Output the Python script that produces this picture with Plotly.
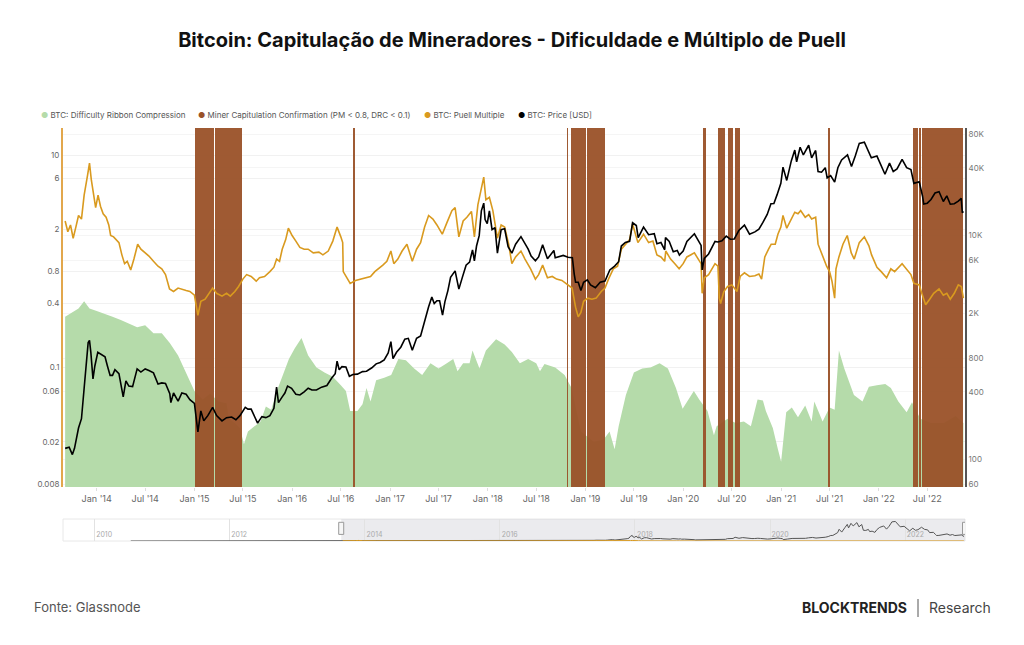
import math
import pandas as pd
import plotly.graph_objects as go

# ---------------- DATA ----------------
price_dates = ["2013-09-05","2013-09-20","2013-10-02","2013-10-10","2013-10-25","2013-11-05","2013-11-15","2013-11-30","2013-12-05","2013-12-10","2013-12-18","2013-12-25",
"2014-01-05","2014-01-20","2014-02-01","2014-02-10","2014-02-20","2014-03-01","2014-03-10","2014-03-25","2014-04-01","2014-04-10","2014-04-20","2014-05-01","2014-05-15","2014-06-01","2014-06-15","2014-07-01","2014-07-15","2014-08-01","2014-08-18","2014-09-01","2014-09-15","2014-10-01","2014-10-05","2014-10-15","2014-11-01","2014-11-15","2014-12-01","2014-12-15",
"2015-01-01","2015-01-14","2015-01-25","2015-02-05","2015-02-20","2015-03-10","2015-03-25","2015-04-14","2015-05-01","2015-05-20","2015-06-05","2015-06-20","2015-07-10","2015-07-20","2015-08-01","2015-08-19","2015-08-25","2015-09-10","2015-09-25","2015-10-10","2015-10-25","2015-11-04","2015-11-11","2015-11-25","2015-12-05","2015-12-15","2015-12-30",
"2016-01-15","2016-01-30","2016-02-15","2016-03-01","2016-03-15","2016-04-01","2016-04-20","2016-05-10","2016-05-28","2016-06-10","2016-06-17","2016-06-25","2016-07-05","2016-07-20","2016-08-02","2016-08-15","2016-09-01","2016-09-20","2016-10-05","2016-10-25","2016-11-10","2016-11-25","2016-12-10","2016-12-25",
"2017-01-04","2017-01-12","2017-01-25","2017-02-10","2017-02-25","2017-03-10","2017-03-25","2017-04-10","2017-04-25","2017-05-10","2017-05-25","2017-06-06","2017-06-15","2017-06-25","2017-07-05","2017-07-16","2017-07-25","2017-08-05","2017-08-15","2017-09-01","2017-09-15","2017-09-28","2017-10-12","2017-10-25","2017-11-05","2017-11-12","2017-11-20","2017-11-30","2017-12-08","2017-12-17","2017-12-22","2017-12-30",
"2018-01-07","2018-01-17","2018-01-28","2018-02-06","2018-02-20","2018-03-05","2018-03-18","2018-04-01","2018-04-15","2018-05-05","2018-05-20","2018-06-01","2018-06-12","2018-06-28","2018-07-10","2018-07-25","2018-08-12","2018-08-25","2018-09-05","2018-09-10","2018-09-25","2018-10-10","2018-10-28","2018-11-13","2018-11-20","2018-11-25","2018-12-05","2018-12-15","2018-12-25",
"2019-01-08","2019-01-20","2019-02-07","2019-02-25","2019-03-15","2019-04-02","2019-04-20","2019-05-05","2019-05-15","2019-05-30","2019-06-15","2019-06-26","2019-07-10","2019-07-17","2019-08-06","2019-08-25","2019-09-15","2019-09-25","2019-10-10","2019-10-24","2019-10-27","2019-11-10","2019-11-25","2019-12-10","2019-12-18",
"2020-01-01","2020-01-15","2020-02-12","2020-02-28","2020-03-08","2020-03-12","2020-03-20","2020-04-05","2020-04-29","2020-05-10","2020-05-25","2020-06-10","2020-06-25","2020-07-10","2020-07-27","2020-08-17","2020-09-05","2020-09-25","2020-10-10","2020-10-25","2020-11-10","2020-11-24","2020-12-05","2020-12-17","2020-12-31",
"2021-01-08","2021-01-22","2021-02-08","2021-02-21","2021-02-28","2021-03-13","2021-03-25","2021-04-14","2021-04-25","2021-05-10","2021-05-19","2021-06-01","2021-06-15","2021-06-22","2021-07-05","2021-07-20","2021-08-01","2021-08-15","2021-09-06","2021-09-21","2021-10-05","2021-10-20","2021-11-08","2021-11-20","2021-12-04","2021-12-25",
"2022-01-10","2022-01-24","2022-02-10","2022-02-24","2022-03-10","2022-03-29","2022-04-15","2022-05-01","2022-05-12","2022-06-01","2022-06-13","2022-06-18","2022-07-01","2022-07-15","2022-07-30","2022-08-14","2022-08-30","2022-09-12","2022-09-25","2022-10-10","2022-10-25","2022-11-05","2022-11-09","2022-11-13"]
price_usd = [125,128,110,125,190,230,430,1100,1150,900,520,680,
900,850,820,680,560,560,630,580,470,360,500,450,445,640,600,640,620,590,470,480,475,385,320,390,330,390,380,340,
315,175,270,220,245,290,245,220,235,238,225,245,290,280,280,230,210,240,235,245,285,440,320,360,390,450,430,
380,375,400,430,415,415,440,455,530,580,750,630,670,665,550,570,575,605,610,655,710,730,770,890,
1120,790,900,1000,1180,1200,940,1200,1260,1750,2300,2800,2450,2600,2600,1930,2550,3200,4200,4800,3300,4200,5400,5750,7400,5900,8000,9900,16500,19300,13800,12700,
16500,11200,11700,6900,11200,11400,7900,6900,8300,9700,8500,7500,6500,5900,6400,8200,6150,6700,7300,6300,6500,6600,6350,6300,4500,3800,3800,3200,3800,
4000,3600,3400,3800,3900,4900,5300,5800,8000,8600,8800,12900,12200,9500,11800,10100,10300,8400,8600,7400,9500,8800,7100,7300,6650,
7200,8800,10300,8700,8100,4900,6200,6800,8800,8700,8900,9800,9200,9250,11000,12300,10200,10700,11300,13000,15300,19100,19200,23000,29000,
40500,30800,46000,57500,45200,61000,52000,63500,49000,57000,37000,36500,40000,32500,34000,29800,40000,47000,52000,41000,51000,66000,67500,58000,49000,50800,
41800,35000,44000,37000,39000,47500,40000,38500,29000,30000,22500,19000,19300,20800,23800,24400,20000,22400,18900,19100,20100,21300,15900,16300]

puell_dates = ["2013-09-05","2013-09-15","2013-09-25","2013-10-05","2013-10-15","2013-10-25","2013-11-05","2013-11-15","2013-11-28","2013-12-05","2013-12-12","2013-12-20","2013-12-28",
"2014-01-06","2014-01-15","2014-01-25","2014-02-05","2014-02-15","2014-02-22","2014-03-05","2014-03-15","2014-03-25","2014-04-05","2014-04-15","2014-04-25","2014-05-08","2014-05-20","2014-06-03","2014-06-15","2014-07-01","2014-07-15","2014-08-01","2014-08-18","2014-09-01","2014-09-15","2014-09-30","2014-10-15","2014-11-01","2014-11-15","2014-12-01","2014-12-15",
"2015-01-01","2015-01-14","2015-01-25","2015-02-10","2015-02-25","2015-03-10","2015-03-25","2015-04-14","2015-05-01","2015-05-15","2015-06-01","2015-06-15","2015-07-01","2015-07-15","2015-08-01","2015-08-20","2015-09-01","2015-09-20","2015-10-10","2015-10-25","2015-11-04","2015-11-15","2015-11-25","2015-12-08","2015-12-18",
"2016-01-01","2016-01-15","2016-01-30","2016-02-15","2016-03-01","2016-03-20","2016-04-10","2016-04-25","2016-05-15","2016-06-01","2016-06-17","2016-07-01","2016-07-08","2016-07-10","2016-07-25","2016-08-05","2016-08-25","2016-09-15","2016-10-01","2016-10-20","2016-11-05","2016-11-20","2016-12-05","2016-12-20",
"2017-01-04","2017-01-15","2017-01-30","2017-02-15","2017-03-05","2017-03-25","2017-04-10","2017-04-25","2017-05-10","2017-05-25","2017-06-10","2017-06-25","2017-07-15","2017-08-01","2017-08-20","2017-09-01","2017-09-15","2017-10-01","2017-10-15","2017-11-01","2017-11-12","2017-11-25","2017-12-08","2017-12-17","2017-12-25",
"2018-01-07","2018-01-20","2018-02-06","2018-02-20","2018-03-05","2018-03-20","2018-04-01","2018-04-15","2018-05-05","2018-05-20","2018-06-10","2018-06-28","2018-07-10","2018-07-25","2018-08-12","2018-08-30","2018-09-15","2018-10-05","2018-10-25","2018-11-12","2018-11-25","2018-12-05","2018-12-15","2018-12-25",
"2019-01-10","2019-01-25","2019-02-10","2019-03-01","2019-03-15","2019-03-28","2019-04-15","2019-05-01","2019-05-15","2019-06-01","2019-06-15","2019-06-26","2019-07-05","2019-07-16","2019-08-06","2019-08-25","2019-09-10","2019-09-25","2019-10-10","2019-10-24","2019-10-28","2019-11-15","2019-12-01","2019-12-17",
"2020-01-01","2020-01-15","2020-02-12","2020-02-28","2020-03-08","2020-03-12","2020-03-20","2020-04-05","2020-04-29","2020-05-10","2020-05-15","2020-05-20","2020-06-01","2020-06-15","2020-07-01","2020-07-20","2020-08-01","2020-08-17","2020-09-05","2020-09-25","2020-10-10","2020-10-20","2020-11-01","2020-11-15","2020-11-25","2020-12-10","2020-12-20","2020-12-31",
"2021-01-08","2021-01-22","2021-02-08","2021-02-21","2021-03-05","2021-03-15","2021-04-01","2021-04-14","2021-04-25","2021-05-10","2021-05-19","2021-06-05","2021-06-20","2021-07-01","2021-07-10","2021-07-20","2021-07-25","2021-08-05","2021-08-20","2021-09-05","2021-09-20","2021-10-01","2021-10-20","2021-11-08","2021-11-25","2021-12-05","2021-12-25",
"2022-01-10","2022-01-30","2022-02-15","2022-03-01","2022-03-29","2022-04-15","2022-05-01","2022-05-12","2022-06-01","2022-06-13","2022-06-25","2022-07-10","2022-07-25","2022-08-14","2022-08-30","2022-09-12","2022-09-25","2022-10-10","2022-10-25","2022-11-05","2022-11-13"]
puell_multiple = [2.4,1.9,2.2,1.65,2.1,2.7,2.5,4.2,6.5,8.4,5.8,4.5,3.2,
4.2,3.3,2.8,2.6,2.2,1.75,1.7,1.6,1.5,1.15,0.95,1.0,0.83,1.05,1.45,1.3,1.2,1.12,1.0,0.9,0.85,0.75,0.55,0.52,0.56,0.55,0.53,0.52,
0.48,0.31,0.42,0.44,0.5,0.56,0.5,0.47,0.5,0.47,0.52,0.58,0.68,0.75,0.72,0.65,0.7,0.72,0.8,0.88,1.05,1.0,1.3,1.6,2.05,
1.75,1.55,1.35,1.3,1.3,1.2,1.22,1.15,1.25,1.55,2.1,1.7,1.5,0.8,0.7,0.62,0.66,0.68,0.7,0.72,0.8,0.85,0.92,1.0,
1.25,0.95,1.05,1.25,1.45,1.0,1.3,1.5,2.1,2.7,2.5,2.2,1.8,2.3,3.0,3.2,1.7,2.4,2.6,2.95,1.7,3.4,4.8,6.2,3.8,
4.0,3.0,1.65,2.2,2.1,1.45,0.95,1.1,1.25,1.05,0.85,0.68,0.75,0.92,0.7,0.72,0.68,0.66,0.6,0.56,0.37,0.3,0.33,0.42,
0.45,0.44,0.45,0.52,0.56,0.68,0.85,0.9,1.3,1.45,1.6,2.25,1.9,1.5,1.8,1.5,1.55,1.15,1.1,1.0,1.25,1.05,0.95,0.85,
0.95,1.1,1.2,1.05,0.95,0.5,0.7,0.75,0.95,0.9,0.45,0.4,0.52,0.58,0.6,0.52,0.72,0.78,0.72,0.73,0.76,0.68,1.1,1.3,1.45,1.45,1.8,2.1,
2.7,2.05,2.5,2.9,2.8,3.0,2.6,2.75,2.5,2.6,1.45,1.1,0.9,0.8,0.65,0.45,0.85,1.1,1.45,1.75,1.2,1.05,1.5,1.7,1.4,1.15,0.88,
0.8,0.7,0.85,0.8,0.95,0.85,0.75,0.62,0.6,0.48,0.39,0.44,0.5,0.55,0.48,0.5,0.44,0.5,0.6,0.58,0.45]

drc_dates = ["2013-09-05","2013-10-01","2013-10-25","2013-11-15","2013-12-05","2014-01-01","2014-02-01","2014-03-01","2014-04-01","2014-05-01","2014-06-01","2014-07-01","2014-08-01","2014-09-01","2014-10-01","2014-11-01","2014-12-01",
"2015-01-01","2015-02-01","2015-03-01","2015-04-01","2015-05-01","2015-05-10","2015-06-01","2015-06-20","2015-07-05","2015-07-20","2015-08-15","2015-09-05","2015-09-25","2015-10-15","2015-11-05","2015-12-01","2015-12-20",
"2016-01-10","2016-02-05","2016-03-01","2016-04-01","2016-05-01","2016-06-01","2016-07-01","2016-07-20","2016-08-05","2016-09-01","2016-09-20","2016-10-05","2016-10-20","2016-11-10","2016-12-10",
"2017-01-05","2017-02-01","2017-03-01","2017-04-01","2017-05-01","2017-06-01","2017-07-01","2017-08-01","2017-08-25","2017-09-10","2017-10-01","2017-10-25","2017-11-05","2017-12-01","2017-12-25",
"2018-02-01","2018-03-05","2018-04-01","2018-05-01","2018-06-01","2018-07-01","2018-07-15","2018-08-01","2018-09-10","2018-10-15","2018-11-10","2018-12-15",
"2019-02-01","2019-03-10","2019-04-01","2019-04-20","2019-05-05","2019-06-01","2019-07-01","2019-08-01","2019-09-01","2019-10-05","2019-11-05","2019-12-05","2019-12-30",
"2020-01-20","2020-02-10","2020-03-01","2020-04-01","2020-04-25","2020-05-05","2020-06-15","2020-07-15","2020-08-15","2020-09-10","2020-10-05","2020-10-25","2020-11-05","2020-12-01","2020-12-20",
"2021-01-01","2021-01-20","2021-02-10","2021-03-05","2021-04-01","2021-04-25","2021-05-05","2021-06-05","2021-07-01","2021-07-20","2021-08-05","2021-08-25","2021-09-30","2021-11-01","2021-11-25","2021-12-25",
"2022-01-25","2022-02-15","2022-03-15","2022-04-15","2022-05-05","2022-06-05","2022-07-15","2022-09-01","2022-10-15","2022-11-13"]
drc_value = [0.30,0.33,0.36,0.42,0.36,0.34,0.32,0.30,0.28,0.26,0.24,0.25,0.21,0.21,0.17,0.13,0.09,
0.06,0.05,0.057,0.048,0.046,0.033,0.03,0.027,0.019,0.025,0.028,0.031,0.043,0.04,0.06,0.09,0.12,
0.15,0.19,0.13,0.1,0.09,0.082,0.068,0.06,0.039,0.039,0.045,0.064,0.048,0.076,0.08,
0.085,0.12,0.117,0.098,0.085,0.11,0.098,0.11,0.12,0.092,0.11,0.11,0.145,0.098,0.145,
0.185,0.165,0.14,0.11,0.12,0.11,0.092,0.108,0.1,0.085,0.064,0.025,
0.02,0.021,0.025,0.017,0.028,0.055,0.09,0.098,0.1,0.11,0.098,0.064,0.041,
0.05,0.06,0.05,0.039,0.023,0.028,0.033,0.03,0.031,0.028,0.05,0.049,0.039,0.027,0.017,
0.013,0.038,0.042,0.034,0.044,0.031,0.048,0.031,0.042,0.04,0.145,0.098,0.055,0.048,0.066,0.068,
0.07,0.064,0.048,0.038,0.047,0.033,0.03,0.03,0.035,0.03]

cap_start = ["2015-01-03","2015-03-18","2015-06-13","2016-08-19","2018-10-25","2018-11-10","2018-11-16","2019-01-05","2019-02-13","2020-03-16","2020-05-12","2020-06-15","2020-07-14","2021-06-28","2022-05-10","2022-06-02","2022-06-13"]
cap_end = ["2015-03-17","2015-06-12","2015-06-28","2016-08-21","2018-10-27","2018-11-12","2019-01-04","2019-02-12","2019-03-16","2020-03-28","2020-06-07","2020-07-07","2020-08-01","2021-06-30","2022-05-27","2022-06-04","2022-11-13"]

nav_early_dates = ["2010-07-18","2011-02-10","2011-06-08","2011-11-20","2012-06-01","2012-12-01","2013-04-10","2013-07-05","2013-09-01"]
nav_early_price = [0.08,1,30,3,6,13,230,70,125]

left_ticks = [10, 6, 2, 0.8, 0.4, 0.1, 0.06, 0.02, 0.008]
left_tick_text = ["10", "6", "2", "0.8", "0.4", "0.1", "0.06", "0.02", "0.008"]
right_ticks = [80000, 40000, 10000, 6000, 2000, 800, 400, 100, 60]
right_tick_text = ["80K", "40K", "10K", "6K", "2K", "800", "400", "100", "60"]
x_tick_dates = ["2014-01-01","2014-07-01","2015-01-01","2015-07-01","2016-01-01","2016-07-01","2017-01-01","2017-07-01","2018-01-01","2018-07-01","2019-01-01","2019-07-01","2020-01-01","2020-07-01","2021-01-01","2021-07-01","2022-01-01","2022-07-01"]
x_tick_text = ["Jan '14","Jul '14","Jan '15","Jul '15","Jan '16","Jul '16","Jan '17","Jul '17","Jan '18","Jul '18","Jan '19","Jul '19","Jan '20","Jul '20","Jan '21","Jul '21","Jan '22","Jul '22"]
nav_tick_dates = ["2010-01-01","2012-01-01","2014-01-01","2016-01-01","2018-01-01","2020-01-01","2022-01-01"]
nav_tick_text = ["2010","2012","2014","2016","2018","2020","2022"]

legend_names = ["BTC: Difficulty Ribbon Compression", "Miner Capitulation Confirmation (PM < 0.8, DRC < 0.1)", "BTC: Puell Multiple", "BTC: Price [USD]"]

# ---------------- STYLE ----------------
GREEN = "#b5dbaa"
BROWN = "#9a5229"
ORANGE = "#d99a1f"
BLACK = "#000000"
FONT = "Inter, Roboto, Arial, sans-serif"

x_range = ["2013-08-28", "2022-11-19"]
nav_range = ["2009-07-17", "2022-11-19"]

cs = pd.to_datetime(cap_start)
ce = pd.to_datetime(cap_end)
cap_mid = cs + (ce - cs) / 2
cap_width = [(e - s).total_seconds() * 1000 for s, e in zip(cs, ce)]

fig = go.Figure()

fig.add_trace(go.Scatter(x=drc_dates, y=drc_value, mode="lines", line=dict(width=0, color=GREEN),
                         fill="tozeroy", fillcolor=GREEN, xaxis="x", yaxis="y", showlegend=False,
                         name=legend_names[0]))
fig.add_trace(go.Bar(x=cap_mid, y=[1] * len(cap_mid), width=cap_width, marker=dict(color=BROWN, line=dict(width=0)),
                     opacity=0.95, xaxis="x", yaxis="y2", showlegend=False, name=legend_names[1]))
fig.add_trace(go.Scatter(x=puell_dates, y=puell_multiple, mode="lines", line=dict(width=1.6, color=ORANGE),
                         xaxis="x", yaxis="y3", showlegend=False, name=legend_names[2]))
fig.add_trace(go.Scatter(x=price_dates, y=price_usd, mode="lines", line=dict(width=1.6, color=BLACK),
                         xaxis="x", yaxis="y4", showlegend=False, name=legend_names[3]))

# Navigator
fig.add_trace(go.Scatter(x=nav_early_dates + price_dates, y=nav_early_price + price_usd, mode="lines",
                         line=dict(width=1, color="#555555"), xaxis="x5", yaxis="y5", showlegend=False))
fig.add_trace(go.Scatter(x=puell_dates, y=[v * 300 for v in puell_multiple], mode="lines",
                         line=dict(width=1, color=ORANGE), xaxis="x5", yaxis="y5", showlegend=False))

PLOT_TOP, PLOT_BOTTOM, NAV_TOP, NAV_BOTTOM = 128, 487, 519, 541
H = 645
b_margin = H - NAV_BOTTOM
area_h = NAV_BOTTOM - PLOT_TOP
main_dom = [(NAV_BOTTOM - PLOT_BOTTOM) / area_h, 1]
nav_dom = [0, (NAV_BOTTOM - NAV_TOP) / area_h]

left_range = [math.log10(0.0075), math.log10(18.0)]
right_range = [math.log10(56.5), math.log10(90500)]

fig.update_layout(
    width=1024, height=645,
    margin=dict(l=63, r=59, t=PLOT_TOP, b=b_margin),
    paper_bgcolor="white", plot_bgcolor="white",
    font=dict(family=FONT, color="#666"),
    bargap=0,
    title=dict(text="<b>Bitcoin: Capitulação de Mineradores - Dificuldade e Múltiplo de Puell</b>",
               x=0.5, xanchor="center", y=1 - 40 / H, yanchor="middle", yref="container",
               font=dict(family=FONT, size=20, color="#111")),
    xaxis=dict(domain=[0, 1], range=x_range, type="date", anchor="y", tickvals=x_tick_dates, ticktext=x_tick_text,
               showgrid=False, ticks="outside", ticklen=3, tickcolor="#dddddd", showline=False, zeroline=False,
               tickfont=dict(size=9, color="#666")),
    yaxis=dict(domain=main_dom, type="log", range=left_range, tickvals=left_ticks, ticktext=left_tick_text,
               showgrid=True, gridcolor="#f1f1f1", gridwidth=1, showline=True, linecolor="#e2a74c", linewidth=2,
               ticks="", tickfont=dict(size=8, color="#666"), zeroline=False, anchor="x"),
    yaxis2=dict(overlaying="y", range=[0, 1], visible=False, anchor="x"),
    yaxis3=dict(overlaying="y", type="log", range=left_range, visible=False, anchor="x"),
    yaxis4=dict(overlaying="y", side="right", type="log", range=right_range, tickvals=right_ticks,
                ticktext=right_tick_text, showgrid=True, gridcolor="#f5f5f5", showline=True, linecolor="#555555",
                linewidth=2, ticks="", tickfont=dict(size=8, color="#777"), zeroline=False, anchor="x"),
    xaxis5=dict(domain=[0, 1], range=nav_range, type="date", anchor="y5", tickvals=nav_tick_dates,
                ticktext=nav_tick_text, showgrid=True, gridcolor="#e2e2e2", ticks="", showline=False,
                ticklabelposition="inside", ticklabelshift=10, tickfont=dict(size=7, color="#aaaaaa"),
                zeroline=False),
    yaxis5=dict(domain=nav_dom, range=[0, 76000], visible=False, anchor="x5"),
)

shapes = [
    dict(type="rect", xref="x5 domain", yref="y5 domain", x0=0, x1=1, y0=0, y1=1,
         line=dict(color="#e8e8e8", width=1), fillcolor="rgba(0,0,0,0)", layer="below"),
    dict(type="rect", xref="x5", yref="y5 domain", x0=x_range[0], x1=x_range[1], y0=0, y1=1,
         line=dict(width=0), fillcolor="rgba(205,205,212,0.4)", layer="below"),
    dict(type="rect", xref="x5", yref="y5 domain", xsizemode="pixel", xanchor=x_range[0], x0=-2.5, x1=2.5,
         y0=0.3, y1=0.85, line=dict(color="#999", width=1), fillcolor="#f6f6f6", layer="above"),
    dict(type="rect", xref="x5", yref="y5 domain", xsizemode="pixel", xanchor=x_range[1], x0=-2.5, x1=2.5,
         y0=0.3, y1=0.85, line=dict(color="#999", width=1), fillcolor="#f6f6f6", layer="above"),
    dict(type="line", xref="paper", yref="paper", x0=(918 - 63) / 902, x1=(918 - 63) / 902,
         y0=(NAV_BOTTOM - 599) / area_h, y1=(NAV_BOTTOM - 617) / area_h, line=dict(color="#555", width=1)),
]
fig.update_layout(shapes=shapes)

def px_x(px):
    return (px - 63) / 902

def px_y(py):
    return (NAV_BOTTOM - py) / area_h

legend_colors = [GREEN, BROWN, ORANGE, BLACK]
legend_x = [39, 196, 422, 516]
annotations = []
for name, col, lx in zip(legend_names, legend_colors, legend_x):
    annotations.append(dict(text=f"<span style='color:{col}'>●</span> {name}", x=px_x(lx), y=px_y(115),
                            xref="paper", yref="paper", xanchor="left", yanchor="middle", showarrow=False,
                            font=dict(family=FONT, size=8, color="#555")))
annotations.append(dict(text="Fonte: Glassnode", x=px_x(32), y=px_y(607), xref="paper", yref="paper",
                        xanchor="left", yanchor="middle", showarrow=False,
                        font=dict(family=FONT, size=13, color="#555")))
annotations.append(dict(text="<b>BLOCKTRENDS</b>", x=px_x(909), y=px_y(607), xref="paper", yref="paper",
                        xanchor="right", yanchor="middle", showarrow=False,
                        font=dict(family=FONT, size=14, color="#222")))
annotations.append(dict(text="Research", x=px_x(927), y=px_y(607), xref="paper", yref="paper",
                        xanchor="left", yanchor="middle", showarrow=False,
                        font=dict(family=FONT, size=14, color="#444")))
fig.update_layout(annotations=annotations)

fig.write_html("out.html")
